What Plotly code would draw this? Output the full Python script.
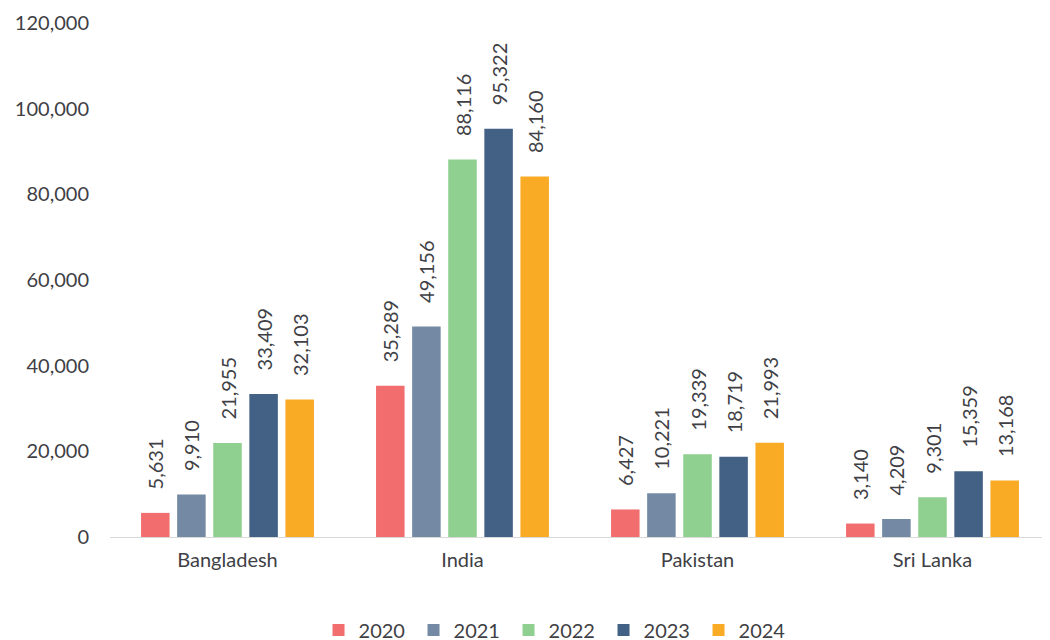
import plotly.graph_objects as go

countries = ["Bangladesh", "India", "Pakistan", "Sri Lanka"]
years = ["2020", "2021", "2022", "2023", "2024"]
v2020 = [5631, 35289, 6427, 3140]
v2021 = [9910, 49156, 10221, 4209]
v2022 = [21955, 88116, 19339, 9301]
v2023 = [33409, 95322, 18719, 15359]
v2024 = [32103, 84160, 21993, 13168]
colors = ["#F26D6E", "#7489A3", "#8FCF8F", "#426185", "#F9AB26"]

series = [v2020, v2021, v2022, v2023, v2024]
FONT = "Lato, 'Open Sans', sans-serif"
TXT = "#3F3F46"
PAD = "\u00a0" * 4

fig = go.Figure()
for yr, vals, c in zip(years, series, colors):
    fig.add_trace(go.Bar(
        x=countries, y=vals, name=yr, marker=dict(color=c, line=dict(width=0)),
        text=[PAD + f"{v:,}" for v in vals], textposition="outside", textangle=-90,
        textfont=dict(size=20, color=TXT, family=FONT), cliponaxis=False,
        hovertemplate="%{x}<br>" + yr + ": %{y:,}<extra></extra>",
    ))

fig.update_layout(
    width=1050, height=660,
    margin=dict(l=102, r=8, t=15, b=131),
    paper_bgcolor="white", plot_bgcolor="white",
    barmode="group", bargap=0.232, bargroupgap=0.21,
    font=dict(family=FONT, size=20, color=TXT),
    uniformtext=dict(minsize=20, mode="show"),
    legend=dict(orientation="h", x=0.4745, xanchor="center", y=-0.181, yanchor="middle",
                font=dict(size=20, color=TXT), itemwidth=30, traceorder="normal",
                entrywidth=50, entrywidthmode="pixels"),
    xaxis=dict(showline=True, linecolor="#D9D9D9", linewidth=1, ticks="",
               tickfont=dict(size=20, color=TXT), showgrid=False, automargin=False,
               ticklabelstandoff=5),
    yaxis=dict(range=[0, 120000], dtick=20000, tickformat=",", showgrid=False,
               zeroline=False, showline=False, ticks="", ticklabelstandoff=20,
               tickfont=dict(size=20, color=TXT), automargin=False),
)
fig.write_html("out.html")
